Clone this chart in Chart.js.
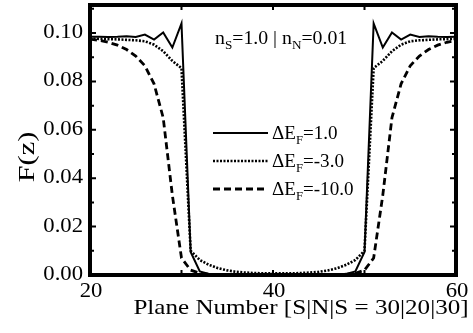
<!DOCTYPE html>
<html>
<head>
<meta charset="utf-8">
<script src="https://cdn.jsdelivr.net/npm/chart.js@4.4.0/dist/chart.umd.min.js"></script>
<style>
  html, body { margin: 0; padding: 0; background: #fff; }
</style>
</head>
<body>
<canvas id="myChart" width="473" height="333"></canvas>
<script>
// plane index along the S|N|S stack
var planes = [20, 21, 22, 23, 24, 25, 26, 27, 28, 29, 30,
              31, 32, 33, 34, 35, 36, 37, 38, 39, 40,
              41, 42, 43, 44, 45, 46, 47, 48, 49, 50,
              51, 52, 53, 54, 55, 56, 57, 58, 59, 60];

// F(z) for each Fermi level shift
var fShift1 = [0.0985, 0.0985, 0.0984, 0.0985, 0.0987, 0.0984, 0.0994, 0.0973, 0.1002, 0.0940, 0.1040,
               0.0095, 0.0015, 0.0004, 0.0002, 0.0002, 0.0002, 0.0002, 0.0002, 0.0002, 0.0002,
               0.0002, 0.0002, 0.0002, 0.0002, 0.0002, 0.0002, 0.0002, 0.0004, 0.0015, 0.0095,
               0.1040, 0.0940, 0.1002, 0.0973, 0.0994, 0.0984, 0.0987, 0.0985, 0.0984, 0.0985];
var fShift3 = [0.0977, 0.0976, 0.0975, 0.0974, 0.0972, 0.0970, 0.0966, 0.0952, 0.0925, 0.0885, 0.0855,
               0.0100, 0.0062, 0.0042, 0.0028, 0.0019, 0.0013, 0.0010, 0.0008, 0.0007, 0.0007,
               0.0007, 0.0007, 0.0008, 0.0010, 0.0013, 0.0019, 0.0028, 0.0042, 0.0062, 0.0100,
               0.0855, 0.0885, 0.0925, 0.0952, 0.0966, 0.0970, 0.0972, 0.0974, 0.0975, 0.0976];
var fShift10 = [0.0975, 0.0970, 0.0962, 0.0950, 0.0932, 0.0905, 0.0865, 0.0790, 0.0650, 0.0330, 0.0070,
                0.0020, 0.0007, 0.0003, 0.0002, 0.0002, 0.0002, 0.0002, 0.0002, 0.0002, 0.0002,
                0.0002, 0.0002, 0.0002, 0.0002, 0.0002, 0.0002, 0.0002, 0.0003, 0.0007, 0.0020,
                0.0070, 0.0330, 0.0650, 0.0790, 0.0865, 0.0905, 0.0932, 0.0950, 0.0962, 0.0970];

var shiftLabels = ['1.0', '-3.0', '-10.0'];

// axis ticks
var xTicks = [20, 40, 60];
var yTicks = [0, 0.02, 0.04, 0.06, 0.08, 0.10];
var xMinor = [20, 30, 40, 50, 60];
var yMinor = [0, 0.01, 0.02, 0.03, 0.04, 0.05, 0.06, 0.07, 0.08, 0.09, 0.10, 0.11];

var serif = '"Liberation Serif", "Times New Roman", serif';

function toPoints(values) {
  return planes.map(function (p, i) { return { x: p, y: values[i] }; });
}

var lineStyles = [
  { width: 2, dash: [] },
  { width: 2.6, dash: [2, 1.5] },
  { width: 2.8, dash: [7, 4] }
];

// draws text widened by sx, returns the advance
function wideText(ctx, text, x, y, sx) {
  var w = ctx.measureText(text).width * sx;
  var left = x;
  if (ctx.textAlign === 'center') left = x - w / 2;
  if (ctx.textAlign === 'right') left = x - w;
  ctx.save();
  ctx.textAlign = 'left';
  ctx.translate(left, y);
  ctx.scale(sx, 1);
  ctx.fillText(text, 0, 0);
  ctx.restore();
  return w;
}

// frame, inward ticks, labels, legend and the n_S|n_N note
var decorations = {
  id: 'decorations',
  afterDraw: function (chart) {
    var ctx = chart.ctx;
    var a = chart.chartArea;
    var xs = chart.scales.x;
    var ys = chart.scales.y;
    ctx.save();
    ctx.strokeStyle = '#000';
    ctx.fillStyle = '#000';
    ctx.textBaseline = 'alphabetic';

    ctx.lineWidth = 2;
    xMinor.forEach(function (v) {
      var px = xs.getPixelForValue(v);
      ctx.beginPath();
      ctx.moveTo(px, a.bottom); ctx.lineTo(px, a.bottom - 5);
      ctx.moveTo(px, a.top); ctx.lineTo(px, a.top + 5);
      ctx.stroke();
    });
    yMinor.forEach(function (v, i) {
      var py = ys.getPixelForValue(v);
      var len = (i % 2 === 0) ? 6 : 4;
      ctx.beginPath();
      ctx.moveTo(a.left, py); ctx.lineTo(a.left + len, py);
      ctx.moveTo(a.right, py); ctx.lineTo(a.right - len, py);
      ctx.stroke();
    });

    ctx.lineWidth = 4;
    ctx.strokeRect(a.left, a.top, a.right - a.left, a.bottom - a.top);

    // tick labels
    ctx.font = '21px ' + serif;
    ctx.textAlign = 'right';
    yTicks.forEach(function (v) {
      wideText(ctx, v.toFixed(2), a.left - 7, ys.getPixelForValue(v) + 5, 1.08);
    });
    ctx.textAlign = 'center';
    xTicks.forEach(function (v) {
      wideText(ctx, String(v), xs.getPixelForValue(v) + 1, 297, 1.08);
    });

    // x title
    ctx.font = '22px ' + serif;
    wideText(ctx, 'Plane Number [S|N|S = 30|20|30]', 301, 314, 1.14);

    // y title
    ctx.save();
    ctx.translate(34, 157);
    ctx.rotate(-Math.PI / 2);
    ctx.font = '23px ' + serif;
    wideText(ctx, 'F(z)', 0, 0, 1.32);
    ctx.restore();

    // note at the top
    ctx.textAlign = 'left';
    var x = 215, base = 44;
    var parts = [['n', 0], ['S', 1], ['=1.0 | n', 0], ['N', 1], ['=0.01', 0]];
    parts.forEach(function (p) {
      ctx.font = (p[1] ? '12px ' : '18px ') + serif;
      x += wideText(ctx, p[0], x, base + (p[1] ? 5 : 0), 1.1);
    });

    // legend
    var rows = [133, 161, 189];
    rows.forEach(function (y, i) {
      var st = lineStyles[i];
      ctx.lineWidth = st.width;
      ctx.setLineDash(st.dash);
      ctx.beginPath();
      ctx.moveTo(213, y); ctx.lineTo(268, y);
      ctx.stroke();
      ctx.setLineDash([]);
      var tx = 272, tb = y + 6;
      ctx.font = '18px ' + serif;
      tx += wideText(ctx, '\u0394E', tx, tb, 1.06);
      ctx.font = '12px ' + serif;
      tx += wideText(ctx, 'F', tx, tb + 5, 1.06);
      ctx.font = '18px ' + serif;
      wideText(ctx, '=' + shiftLabels[i], tx, tb, 1.06);
    });
    ctx.restore();
  }
};

var ctx = document.getElementById('myChart').getContext('2d');
var chart = new Chart(ctx, {
  type: 'line',
  data: {
    datasets: [fShift1, fShift3, fShift10].map(function (vals, i) {
      return {
        label: '\u0394E_F=' + shiftLabels[i],
        data: toPoints(vals),
        borderColor: '#000',
        borderWidth: lineStyles[i].width,
        borderDash: lineStyles[i].dash,
        pointRadius: 0,
        tension: 0,
        fill: false
      };
    })
  },
  options: {
    responsive: false,
    animation: false,
    layout: { padding: { top: 5, right: 17, left: 0, bottom: 0 } },
    plugins: { legend: { display: false }, tooltip: { enabled: false } },
    scales: {
      x: {
        type: 'linear',
        min: 20,
        max: 60,
        grid: { display: false, drawTicks: false },
        border: { display: false },
        afterBuildTicks: function (scale) {
          scale.ticks = xTicks.map(function (v) { return { value: v }; });
        },
        afterFit: function (scale) { scale.height = 58; },
        ticks: { display: false }
      },
      y: {
        min: 0,
        max: 0.1116,
        grid: { display: false, drawTicks: false },
        border: { display: false },
        afterBuildTicks: function (scale) {
          scale.ticks = yTicks.map(function (v) { return { value: v }; });
        },
        afterFit: function (scale) { scale.width = 90; },
        ticks: { display: false }
      }
    }
  },
  plugins: [decorations]
});
</script>
</body>
</html>
